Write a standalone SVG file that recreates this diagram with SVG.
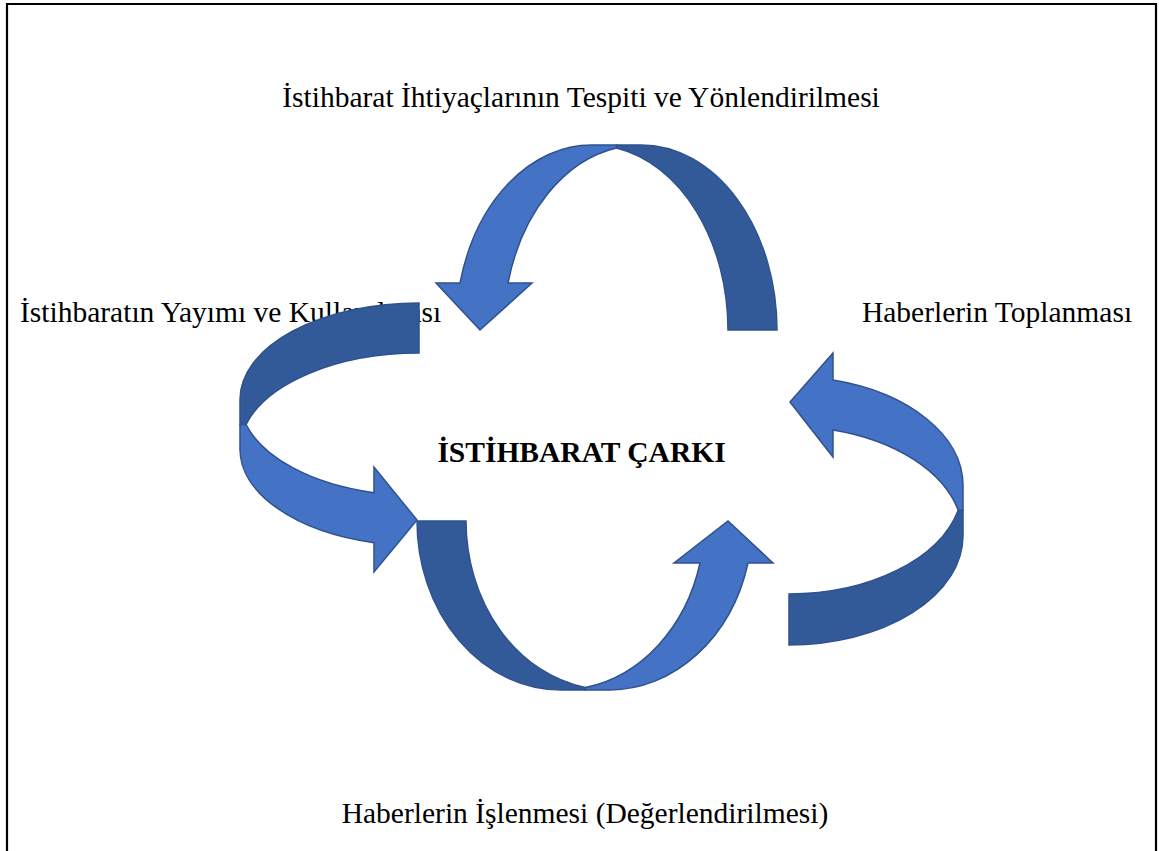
<svg xmlns="http://www.w3.org/2000/svg" width="1159" height="851" viewBox="0 0 1159 851">
  <style>
    .lbl { font-family: "Liberation Serif", "Times New Roman", serif; font-size: 29.5px; fill: #000; }
    .title { font-family: "Liberation Serif", "Times New Roman", serif; font-size: 29.5px; font-weight: bold; fill: #000; }
    .front { fill: #4472C4; stroke: #2F528F; stroke-width: 1.5; stroke-linejoin: miter; }
    .back { fill: #335A98; stroke: #2F528F; stroke-width: 1.5; stroke-linejoin: miter; }
  </style>
  <rect x="0" y="0" width="1159" height="851" fill="#fff"/>
  <path d="M7,851 L7,4 L1156,4 L1156,851" fill="none" stroke="#000" stroke-width="2.2"/>

  <g id="labels">
    <text class="lbl" x="581" y="107" text-anchor="middle">İstihbarat İhtiyaçlarının Tespiti ve Yönlendirilmesi</text>
    <text class="lbl" x="20" y="322">İstihbaratın Yayımı ve Kullanılması</text>
    <text class="lbl" x="997" y="322" text-anchor="middle">Haberlerin Toplanması</text>
    <text class="lbl" x="585" y="823" text-anchor="middle">Haberlerin İşlenmesi (Değerlendirilmesi)</text>
  </g>

  <g id="center">
    <text class="title" x="581.5" y="462" text-anchor="middle">İSTİHBARAT ÇARKI</text>
  </g>

  <g id="connectors">
    <g id="arrow-top">
      <path class="back" d="M777,330 A136,185 0 0 0 641,145 L616.5,145 L616.5,148 A136,185 0 0 1 728,330 Z"/>
      <path class="front" d="M616.5,145 L592,145 A136,185 0 0 0 460,283 L436,283 L480,330 L532,283 L508,283 A136,185 0 0 1 616.5,148 Z"/>
    </g>
    <g id="arrow-right">
      <path class="back" d="M789,645 A174,109.3 0 0 0 963,535.7 L963,510.2 L958.2,510.2 A174,109.3 0 0 1 789,594 Z"/>
      <path class="front" d="M963,510.2 L963,484.7 A174,109.3 0 0 0 833,380 L833,353 L790,402 L833,457 L833,430 A174,109.3 0 0 1 958.2,510.2 Z"/>
    </g>
    <g id="arrow-bottom">
      <path class="back" d="M417,521 A143.8,169 0 0 0 560.8,690 L585.3,690 L585.3,687.5 A143.8,169 0 0 1 466,521 Z"/>
      <path class="front" d="M585.3,690 L609.8,690 A143.8,169 0 0 0 748,563 L773,563 L728,521 L674,563 L700,563 A143.8,169 0 0 1 585.3,687.5 Z"/>
    </g>
    <g id="arrow-left">
      <path class="back" d="M419,303 A179,96.5 0 0 0 240,399.5 L240,424.5 L246.1,424.5 A179,96.5 0 0 1 419,353 Z"/>
      <path class="front" d="M240,424.5 L240,449.5 A179,96.5 0 0 0 374,542.7 L374,572 L417,520 L374,467 L374,492.7 A179,96.5 0 0 1 246.1,424.5 Z"/>
    </g>
  </g>
</svg>
